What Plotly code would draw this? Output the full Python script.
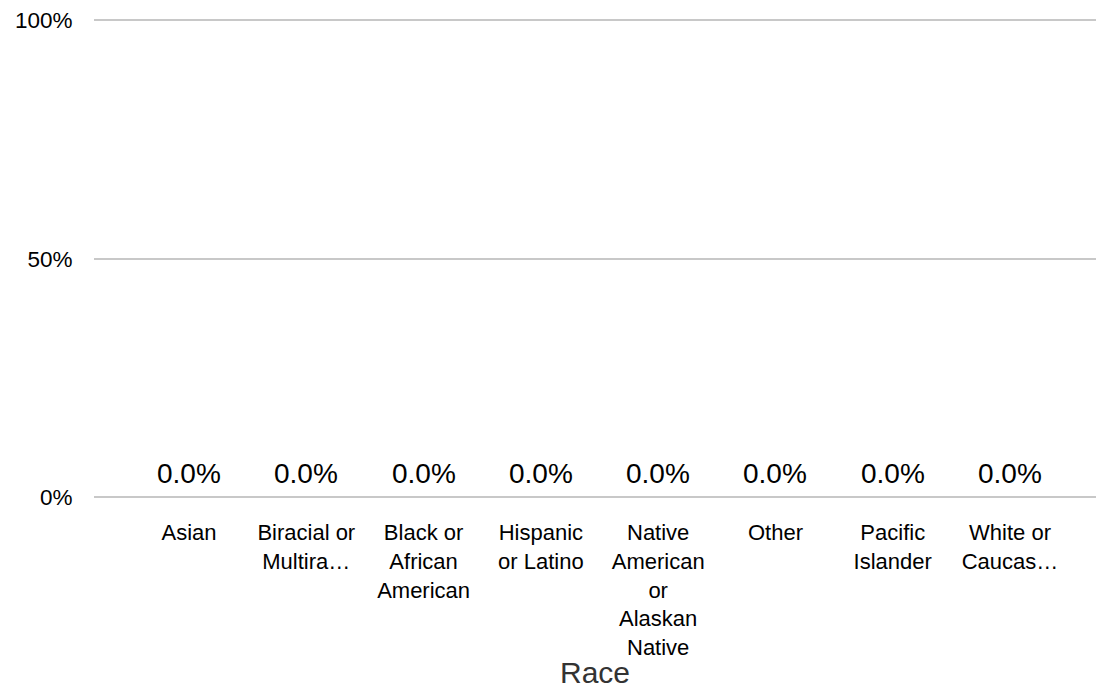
import plotly.graph_objects as go

categories = [
    "Asian",
    "Biracial or Multiracial",
    "Black or African American",
    "Hispanic or Latino",
    "Native American or Alaskan Native",
    "Other",
    "Pacific Islander",
    "White or Caucasian",
]
tick_labels = [
    "Asian",
    "Biracial or<br>Multira…",
    "Black or<br>African<br>American",
    "Hispanic<br>or Latino",
    "Native<br>American<br>or<br>Alaskan<br>Native",
    "Other",
    "Pacific<br>Islander",
    "White or<br>Caucas…",
]
values = [0.0, 0.0, 0.0, 0.0, 0.0, 0.0, 0.0, 0.0]
y_ticks = [0, 0.5, 1.0]
y_tick_labels = ["0%", "50%", "100%"]

FONT = "Liberation Sans, Arial, sans-serif"

fig = go.Figure()
fig.add_trace(go.Bar(
    x=categories,
    y=values,
    marker_color="#4472c4",
    marker_line_width=0,
    showlegend=False,
    hoverinfo="skip",
))

for cat, v in zip(categories, values):
    fig.add_annotation(
        x=cat, y=v, xref="x", yref="y",
        text=f"{v*100:.1f}%",
        showarrow=False,
        yanchor="bottom",
        yshift=6,
        font=dict(size=28, color="#000000", family=FONT),
    )

fig.update_layout(
    width=1096,
    height=689,
    margin=dict(l=94, r=0, t=19, b=192),
    plot_bgcolor="white",
    paper_bgcolor="white",
    font=dict(family=FONT, size=22, color="#000000"),
    bargap=0.3,
)
fig.update_xaxes(
    type="category",
    range=[-0.81, 7.733],
    tickmode="array",
    tickvals=categories,
    ticktext=tick_labels,
    tickangle=0,
    ticks="outside",
    ticklen=16,
    tickcolor="rgba(0,0,0,0)",
    tickfont=dict(size=22, color="#000000", family=FONT),
    showgrid=False,
    showline=False,
    title=dict(text="Race", font=dict(size=30, color="#333333", family=FONT), standoff=0),
)
fig.update_yaxes(
    range=[0, 1.003],
    tickmode="array",
    tickvals=y_ticks,
    ticktext=y_tick_labels,
    tickfont=dict(size=22.5, color="#000000", family=FONT),
    showgrid=True,
    gridcolor="#c8c8c8",
    gridwidth=2,
    zeroline=True,
    zerolinecolor="#c8c8c8",
    zerolinewidth=2,
    showline=False,
    ticks="outside",
    ticklen=16,
    tickcolor="rgba(0,0,0,0)",
)

fig.write_html(
    "out.html",
    config={"displayModeBar": False},
    post_script="document.body.style.margin='0';document.body.style.overflow='hidden';",
)
